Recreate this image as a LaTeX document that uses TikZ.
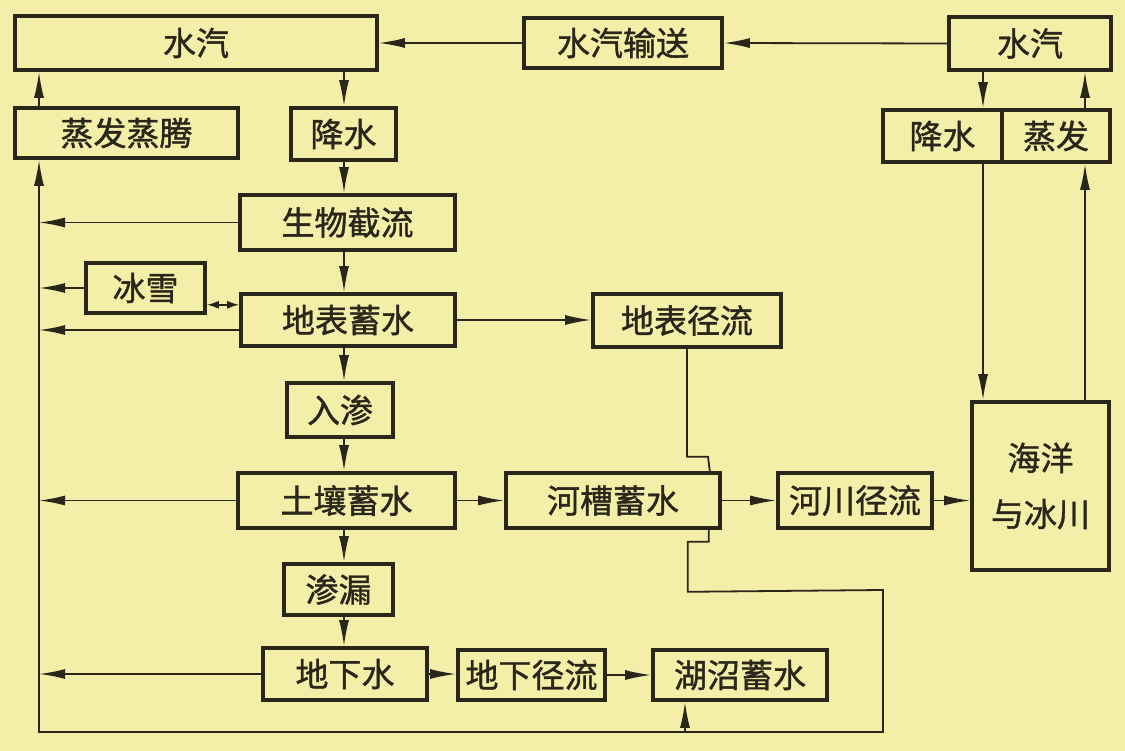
\documentclass[tikz,border=0pt]{standalone}
\usepackage{fontspec}
\newfontfamily\cjk[FakeBold=1.2]{Noto Sans CJK SC}
\usetikzlibrary{arrows.meta,calc}
\definecolor{paper}{RGB}{244,239,168}
\definecolor{ink}{RGB}{42,38,26}
\begin{document}
\begin{tikzpicture}[x=1pt,y=-1pt,
  box/.style={draw=ink,line width=3.6pt,inner sep=0pt,text=ink,
    font=\cjk\fontsize{33}{56}\selectfont,align=center},
  ln/.style={draw=ink,line width=1.8pt,line join=miter},
  arr/.style={ln,-{Latex[length=26pt,width=10pt]}},
  dbl/.style={ln,{Latex[length=12pt,width=8pt]}-{Latex[length=12pt,width=8pt]}}]
\fill[paper] (0,0) rectangle (1125,751);
\useasboundingbox (0,0) rectangle (1125,751);

% nodes
\node[box,minimum width=362pt,minimum height=54pt] (vapL) at (196,43) {水汽};
\node[box,minimum width=198pt,minimum height=50pt] (trans) at (623,43) {水汽输送};
\node[box,minimum width=162pt,minimum height=53pt] (vapR) at (1030,43.5) {水汽};
\node[box,minimum width=223pt,minimum height=50pt] (evapT) at (126.5,133) {蒸发蒸腾};
\node[box,minimum width=105pt,minimum height=52pt] (precL) at (343.5,134) {降水};
\node[box,minimum width=119pt,minimum height=52pt] (precR) at (942.5,136) {降水};
\node[box,minimum width=108pt,minimum height=52pt] (evapR) at (1056,136) {蒸发};
\node[box,minimum width=215pt,minimum height=55pt] (bio) at (347.5,222.5) {生物截流};
\node[box,minimum width=119pt,minimum height=50pt] (ice) at (145.5,288) {冰雪};
\node[box,minimum width=214pt,minimum height=52pt] (surf) at (348,320) {地表蓄水};
\node[box,minimum width=188pt,minimum height=53pt] (sro) at (687,320.5) {地表径流};
\node[box,minimum width=106pt,minimum height=54pt] (inf) at (340,410) {入渗};
\node[box,minimum width=217pt,minimum height=55pt] (soil) at (346.5,500.5) {土壤蓄水};
\node[box,minimum width=214pt,minimum height=55pt] (chan) at (613,500.5) {河槽蓄水};
\node[box,minimum width=154pt,minimum height=55pt] (river) at (855,500.5) {河川径流};
\node[box,minimum width=137pt,minimum height=168pt] (ocean) at (1040.5,486) {海洋\\与冰川};
\node[box,minimum width=109pt,minimum height=51pt] (perc) at (338.5,589.5) {渗漏};
\node[box,minimum width=164pt,minimum height=52pt] (gw) at (345,674) {地下水};
\node[box,minimum width=147pt,minimum height=50pt] (gro) at (531.5,675) {地下径流};
\node[box,minimum width=174pt,minimum height=50pt] (lake) at (740,675) {湖沼蓄水};

% helper coordinates
\coordinate (colx) at (344,0);
\coordinate (spineB) at (39,732);
\coordinate (loopR) at (883,732);
\coordinate (lk) at (685,732);
\coordinate (rc1) at (983,0);
\coordinate (rc2) at (1085,0);

% top transport
\draw[arr] (trans.west) -- (vapL.east);
\draw[arr] (vapR.west) -- (trans.east);

% main column
\draw[arr] (colx |- vapL.south) -- (colx |- precL.north);
\draw[arr] (colx |- precL.south) -- (colx |- bio.north);
\draw[arr] (colx |- bio.south) -- (colx |- surf.north);
\draw[arr] (colx |- surf.south) -- (colx |- inf.north);
\draw[arr] (colx |- inf.south) -- (colx |- soil.north);
\draw[arr] (colx |- soil.south) -- (colx |- perc.north);
\draw[arr] (colx |- perc.south) -- (colx |- gw.north);

% left spine
\draw[arr] (evapT.north -| spineB) -- (vapL.south -| spineB);
\draw[arr] (bio.west) -- (bio.west -| spineB);
\draw[arr] (ice.west) -- (ice.west -| spineB);
\draw[arr] ($(surf.west)+(0,10)$) coordinate (sw) -- (sw -| spineB);
\draw[arr] (soil.west) -- (soil.west -| spineB);
\draw[arr] (gw.west) -- (gw.west -| spineB);
\draw[dbl] ($(ice.south east)+(0,-10)$) coordinate (ic) -- (ic -| surf.west);

% horizontal flows
\draw[arr] (surf.east) -- (surf.east -| sro.west);
\draw[arr] (soil.east) -- (chan.west);
\draw[arr] (chan.east) -- (river.west);
\draw[arr] (river.east) -- (river.east -| ocean.west);
\draw[arr] (gw.east) -- (gw.east -| gro.west);
\draw[arr] (gro.east) -- (gro.east -| lake.west);

% surface runoff into channel storage
\draw[ln] (sro.south) -- ++(0,108) -- ++(21,0) -- ($(chan.north east)+(-12,0)$);

% channel storage loop to bottom and up the spine
\draw[arr] ($(chan.south east)+(-13,0)$) -- ++(0,12) -- ++(-21,0) -- ++(0,50)
  -- (loopR |- 0,590) -- (loopR) -- (spineB) -- (spineB |- evapT.south);
\draw[arr] (lk) -- (lk |- lake.south);

% right column
\draw[arr] (rc1 |- vapR.south) -- (rc1 |- precR.north);
\draw[arr] (rc1 |- precR.south) -- (rc1 |- ocean.north);
\draw[arr] (rc2 |- ocean.north) -- (rc2 |- evapR.south);
\draw[arr] (rc2 |- evapR.north) -- (rc2 |- vapR.south);
\end{tikzpicture}
\end{document}
